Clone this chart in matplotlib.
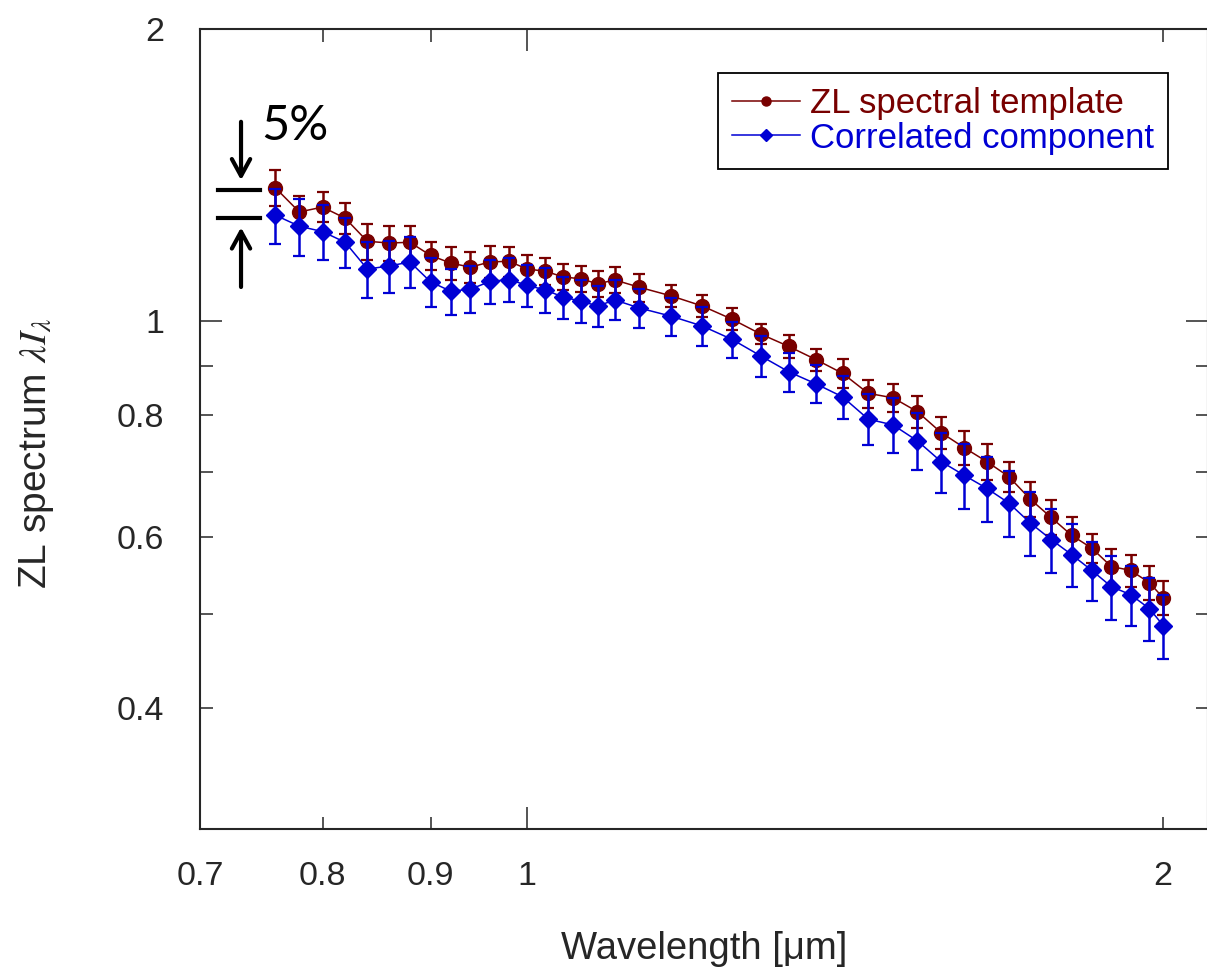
import numpy as np
import matplotlib
matplotlib.use("Agg")
import matplotlib.pyplot as plt
from matplotlib.lines import Line2D

plt.rcParams['font.family'] = ['Liberation Sans', 'DejaVu Sans']
plt.rcParams['mathtext.fontset'] = 'stix'

# wavelength grid [um]
wavelength = [0.76, 0.78, 0.80, 0.82, 0.84, 0.86, 0.88, 0.90, 0.92, 0.94,
              0.96, 0.98, 1.00, 1.02, 1.04, 1.06, 1.08, 1.10,
              1.13, 1.17, 1.21, 1.25, 1.29, 1.33, 1.37, 1.41, 1.45, 1.49,
              1.53, 1.57, 1.61, 1.65, 1.69, 1.73, 1.77, 1.81, 1.85, 1.89,
              1.93, 1.97, 2.00]

# ZL spectral template
zl_template = [1.372, 1.296, 1.311, 1.277, 1.209, 1.204, 1.206, 1.169, 1.148, 1.137,
               1.151, 1.153, 1.132, 1.126, 1.111, 1.106, 1.093, 1.103,
               1.084, 1.062, 1.037, 1.005, 0.970, 0.942, 0.913, 0.884, 0.843, 0.834,
               0.807, 0.768, 0.741, 0.717, 0.692, 0.656, 0.628, 0.602, 0.584, 0.559,
               0.554, 0.538, 0.519]
zl_template_err = [0.059, 0.049, 0.047, 0.046, 0.052, 0.049, 0.049, 0.039, 0.046, 0.041,
                   0.044, 0.041, 0.038, 0.037, 0.034, 0.034, 0.034, 0.034,
                   0.036, 0.028, 0.027, 0.026, 0.023, 0.025, 0.024, 0.030, 0.028, 0.028,
                   0.031, 0.029, 0.030, 0.031, 0.025, 0.027, 0.026, 0.026, 0.020, 0.024,
                   0.021, 0.022, 0.021]

# correlated component
correlated = [1.286, 1.253, 1.237, 1.206, 1.132, 1.140, 1.151, 1.098, 1.074, 1.079,
              1.099, 1.104, 1.089, 1.077, 1.059, 1.049, 1.037, 1.052,
              1.032, 1.012, 0.989, 0.958, 0.921, 0.887, 0.862, 0.836, 0.793, 0.782,
              0.753, 0.717, 0.694, 0.673, 0.650, 0.620, 0.596, 0.575, 0.554, 0.533,
              0.523, 0.506, 0.486]
correlated_err = [0.084, 0.085, 0.080, 0.072, 0.074, 0.071, 0.069, 0.063, 0.059, 0.060,
                  0.058, 0.058, 0.055, 0.057, 0.053, 0.053, 0.050, 0.050,
                  0.047, 0.046, 0.045, 0.041, 0.044, 0.041, 0.039, 0.042, 0.048, 0.051,
                  0.051, 0.051, 0.054, 0.051, 0.051, 0.047, 0.045, 0.043, 0.039, 0.040,
                  0.037, 0.038, 0.037]

red = '#780000'
blue = '#0000d4'
ink = '#262626'

fig = plt.figure(figsize=(12.07, 9.67), dpi=100)
W, H = 1207, 967
ax = fig.add_axes([200 / W, 1 - 829 / H, 1008 / W, 800 / H])

ax.errorbar(wavelength, zl_template, yerr=zl_template_err, fmt='-o', color=red,
            ms=10, lw=1.1, elinewidth=1.8, capsize=4, capthick=1.6, zorder=2)
ax.errorbar(wavelength, correlated, yerr=correlated_err, fmt='-D', color=blue,
            ms=9.5, lw=1.1, elinewidth=1.8, capsize=4, capthick=1.6, zorder=3)

ax.set_xscale('log')
ax.set_yscale('log')
ax.set_xlim(0.7, 2.1)
ax.set_ylim(0.3, 2.0)

# ticks
ax.set_xticks([1], ['1'])
ax.set_xticks([0.7, 0.8, 0.9, 2], ['0.7', '0.8', '0.9', '2'], minor=True)
ax.set_yticks([1], ['1'])
ax.set_yticks([0.3, 0.4, 0.5, 0.6, 0.7, 0.8, 0.9, 2],
              ['', '0.4', '', '0.6', '', '0.8', '', '2'], minor=True)
ax.tick_params(which='both', direction='in', top=True, right=True,
               width=1.1, color=ink, labelcolor=ink, labelsize=24.5)
ax.tick_params(which='major', length=16)
ax.tick_params(which='minor', length=9)
ax.tick_params(axis='x', which='both', pad=23)
ax.tick_params(axis='y', which='both', pad=26)
for sp in ax.spines.values():
    sp.set_linewidth(1.5)
    sp.set_color(ink)

ax.set_xlabel('Wavelength [\u03bcm]', fontsize=27.5, color=ink)
ax.xaxis.set_label_coords(0.5, -0.128)
ax.set_ylabel(r'ZL spectrum $\lambda I_\lambda$', fontsize=28, color=ink)
ax.yaxis.set_label_coords(-0.143, 0.47)

handles = [Line2D([], [], color=red, marker='o', ms=6.5, lw=1.1),
           Line2D([], [], color=blue, marker='D', ms=6, lw=1.1)]
leg = ax.legend(handles, ['ZL spectral template', 'Correlated component'],
                loc='upper right', bbox_to_anchor=(0.960, 0.945), borderaxespad=0,
                fontsize=25, fancybox=False, framealpha=1, edgecolor='black',
                handlelength=1.95, handletextpad=0.28, labelspacing=0.05,
                borderpad=0.4, labelcolor='linecolor')
leg.get_frame().set_linewidth(1.3)

# 5% marker
ax.plot([0.018, 0.0595], [0.799, 0.799], transform=ax.transAxes, color='k', lw=3, clip_on=False)
ax.plot([0.018, 0.0595], [0.764, 0.764], transform=ax.transAxes, color='k', lw=3, clip_on=False)
arrow = dict(arrowstyle='->,head_length=0.55,head_width=0.3', color='k', lw=3,
             mutation_scale=22, shrinkA=0, shrinkB=0)
ax.annotate('', xy=(0.0407, 0.811), xytext=(0.0407, 0.884),
            xycoords='axes fraction', textcoords='axes fraction', arrowprops=arrow)
ax.annotate('', xy=(0.0407, 0.752), xytext=(0.0407, 0.6775),
            xycoords='axes fraction', textcoords='axes fraction', arrowprops=arrow)
ax.text(0.061, 0.861, '5%', transform=ax.transAxes, fontsize=35,
        family=['Lato', 'DejaVu Sans'], color='k', va='baseline', ha='left')

fig.savefig('out.png', dpi=100)
